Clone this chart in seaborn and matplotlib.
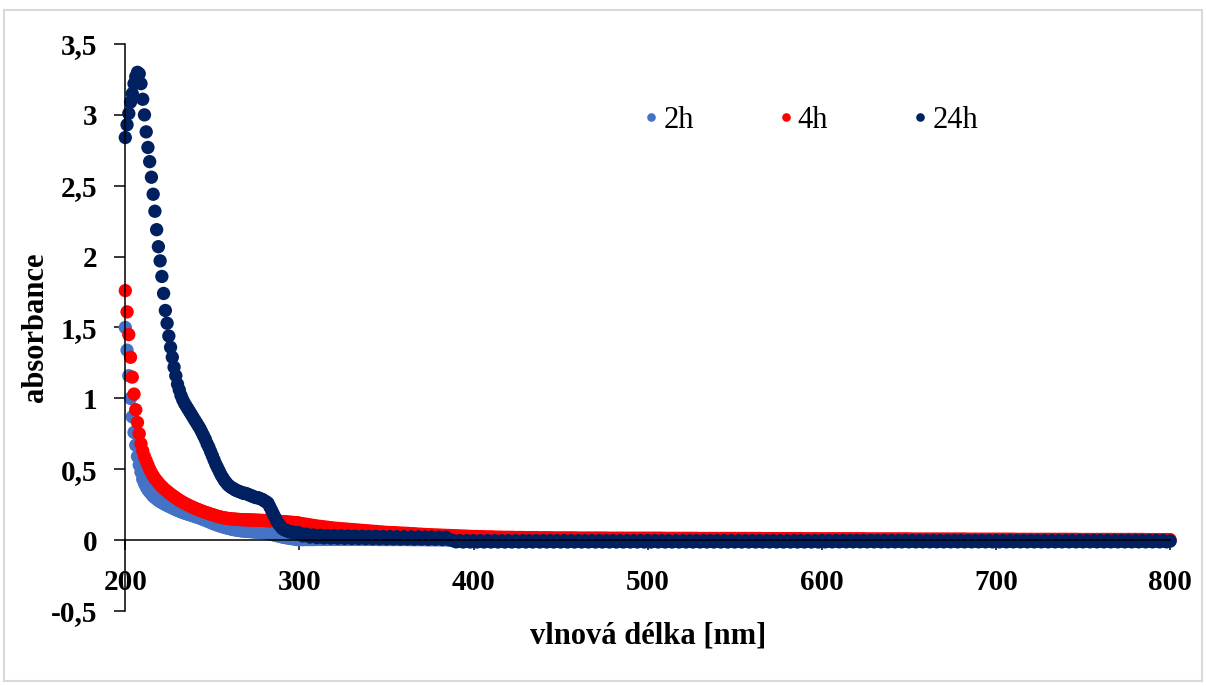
import matplotlib
matplotlib.use("Agg")
import matplotlib.pyplot as plt
from matplotlib.lines import Line2D
from matplotlib.patches import Rectangle
from matplotlib.ticker import FuncFormatter, MultipleLocator
import pandas as pd
import seaborn as sns

# Wavelength grid: 1 nm steps in the UV part, 2 nm steps from 300 nm on
wavelength = list(range(200, 300)) + list(range(300, 801, 2))

abs_2h = [
    # 200-299 nm
    1.50, 1.34, 1.16, 1.00, 0.87, 0.76, 0.67, 0.59, 0.53, 0.48,
    0.43, 0.40, 0.375, 0.355, 0.34, 0.325, 0.31, 0.30, 0.29, 0.28,
    0.272, 0.265, 0.258, 0.251, 0.245, 0.239, 0.233, 0.227, 0.221, 0.216,
    0.21, 0.205, 0.20, 0.195, 0.191, 0.187, 0.183, 0.179, 0.175, 0.171,
    0.167, 0.163, 0.159, 0.155, 0.15, 0.145, 0.14, 0.135, 0.13, 0.125,
    0.12, 0.115, 0.11, 0.106, 0.102, 0.098, 0.094, 0.09, 0.087, 0.084,
    0.081, 0.078, 0.075, 0.073, 0.071, 0.069, 0.067, 0.065, 0.064, 0.063,
    0.062, 0.061, 0.06, 0.059, 0.058, 0.057, 0.056, 0.055, 0.054, 0.053,
    0.052, 0.05, 0.047, 0.044, 0.041, 0.038, 0.035, 0.032, 0.029, 0.026,
    0.023, 0.02, 0.018, 0.016, 0.014, 0.012, 0.01, 0.008, 0.006, 0.004,
    # 300-800 nm
    0.003, 0.003, 0.004, 0.004, 0.004, 0.005, 0.005, 0.005, 0.005, 0.005,
    0.005, 0.005, 0.005, 0.005, 0.005, 0.005, 0.005, 0.005, 0.005, 0.005,
    0.005, 0.005, 0.005, 0.004, 0.004, 0.004, 0.004, 0.004, 0.004, 0.004,
    0.004, 0.004, 0.003, 0.003, 0.003, 0.003, 0.003, 0.002, 0.002, 0.002,
    0.002, 0.001, 0.001, 0.000, -0.004, -0.008, -0.008, -0.008, -0.008, -0.008,
    -0.008, -0.008, -0.008, -0.008, -0.008, -0.008, -0.008, -0.008, -0.008, -0.008,
    -0.008, -0.008, -0.008, -0.008, -0.008, -0.008, -0.008, -0.008, -0.008, -0.008,
    -0.008, -0.008, -0.008, -0.008, -0.008, -0.008, -0.008, -0.008, -0.008, -0.008,
    -0.008, -0.008, -0.008, -0.008, -0.008, -0.008, -0.008, -0.008, -0.008, -0.008,
    -0.008, -0.008, -0.008, -0.008, -0.008, -0.008, -0.008, -0.008, -0.008, -0.008,
    -0.008, -0.008, -0.008, -0.008, -0.008, -0.008, -0.008, -0.008, -0.008, -0.008,
    -0.008, -0.008, -0.008, -0.008, -0.008, -0.008, -0.008, -0.008, -0.008, -0.008,
    -0.008, -0.008, -0.008, -0.008, -0.008, -0.008, -0.008, -0.008, -0.008, -0.008,
    -0.008, -0.008, -0.008, -0.008, -0.008, -0.008, -0.008, -0.008, -0.008, -0.008,
    -0.008, -0.008, -0.008, -0.008, -0.008, -0.008, -0.008, -0.008, -0.008, -0.008,
    -0.007, -0.007, -0.007, -0.007, -0.007, -0.007, -0.007, -0.007, -0.007, -0.007,
    -0.007, -0.007, -0.007, -0.007, -0.007, -0.007, -0.007, -0.007, -0.007, -0.007,
    -0.007, -0.007, -0.007, -0.007, -0.007, -0.007, -0.007, -0.007, -0.007, -0.007,
    -0.007, -0.007, -0.007, -0.007, -0.007, -0.007, -0.007, -0.007, -0.007, -0.007,
    -0.007, -0.007, -0.007, -0.007, -0.007, -0.007, -0.007, -0.007, -0.007, -0.007,
    -0.007, -0.007, -0.007, -0.007, -0.007, -0.007, -0.007, -0.007, -0.007, -0.007,
    -0.007, -0.007, -0.007, -0.007, -0.007, -0.007, -0.007, -0.007, -0.007, -0.007,
    -0.007, -0.007, -0.007, -0.007, -0.007, -0.007, -0.007, -0.007, -0.007, -0.007,
    -0.007, -0.007, -0.007, -0.007, -0.007, -0.007, -0.007, -0.007, -0.007, -0.007,
    -0.007, -0.007, -0.007, -0.007, -0.007, -0.007, -0.007, -0.007, -0.007, -0.007,
    -0.007,
]

abs_4h = [
    # 200-299 nm
    1.76, 1.61, 1.45, 1.29, 1.15, 1.03, 0.92, 0.83, 0.75, 0.68,
    0.63, 0.59, 0.56, 0.53, 0.50, 0.475, 0.455, 0.435, 0.42, 0.405,
    0.39, 0.378, 0.366, 0.355, 0.345, 0.335, 0.325, 0.316, 0.307, 0.298,
    0.29, 0.282, 0.274, 0.267, 0.26, 0.254, 0.248, 0.242, 0.236, 0.23,
    0.225, 0.22, 0.215, 0.21, 0.205, 0.20, 0.196, 0.192, 0.188, 0.184,
    0.18, 0.176, 0.172, 0.168, 0.165, 0.162, 0.159, 0.157, 0.155, 0.153,
    0.151, 0.15, 0.149, 0.148, 0.147, 0.146, 0.145, 0.145, 0.144, 0.144,
    0.143, 0.143, 0.142, 0.142, 0.141, 0.141, 0.14, 0.14, 0.139, 0.139,
    0.138, 0.138, 0.137, 0.137, 0.136, 0.135, 0.135, 0.134, 0.133, 0.132,
    0.131, 0.13, 0.129, 0.128, 0.127, 0.126, 0.125, 0.124, 0.123, 0.122,
    # 300-800 nm
    0.120, 0.116, 0.112, 0.108, 0.104, 0.100, 0.097, 0.094, 0.091, 0.088,
    0.085, 0.083, 0.081, 0.079, 0.077, 0.075, 0.073, 0.071, 0.069, 0.067,
    0.065, 0.063, 0.061, 0.059, 0.057, 0.055, 0.054, 0.053, 0.052, 0.050,
    0.049, 0.048, 0.046, 0.045, 0.043, 0.042, 0.040, 0.039, 0.038, 0.037,
    0.036, 0.035, 0.034, 0.033, 0.032, 0.031, 0.030, 0.029, 0.028, 0.027,
    0.026, 0.026, 0.025, 0.024, 0.023, 0.023, 0.022, 0.021, 0.021, 0.020,
    0.020, 0.020, 0.019, 0.019, 0.019, 0.018, 0.018, 0.018, 0.018, 0.017,
    0.017, 0.017, 0.017, 0.016, 0.016, 0.016, 0.016, 0.016, 0.016, 0.016,
    0.015, 0.015, 0.015, 0.015, 0.015, 0.015, 0.015, 0.015, 0.015, 0.014,
    0.014, 0.014, 0.014, 0.014, 0.014, 0.014, 0.014, 0.014, 0.014, 0.014,
    0.014, 0.014, 0.014, 0.014, 0.014, 0.013, 0.013, 0.013, 0.013, 0.013,
    0.013, 0.013, 0.013, 0.013, 0.013, 0.012, 0.012, 0.012, 0.012, 0.012,
    0.012, 0.012, 0.012, 0.012, 0.012, 0.012, 0.012, 0.012, 0.012, 0.012,
    0.012, 0.012, 0.012, 0.011, 0.011, 0.011, 0.011, 0.011, 0.011, 0.011,
    0.011, 0.011, 0.011, 0.011, 0.011, 0.010, 0.010, 0.010, 0.010, 0.010,
    0.010, 0.010, 0.010, 0.010, 0.010, 0.010, 0.010, 0.010, 0.010, 0.010,
    0.010, 0.010, 0.010, 0.009, 0.009, 0.009, 0.009, 0.009, 0.009, 0.009,
    0.009, 0.009, 0.009, 0.009, 0.009, 0.009, 0.008, 0.008, 0.008, 0.008,
    0.008, 0.008, 0.008, 0.008, 0.008, 0.008, 0.008, 0.008, 0.008, 0.008,
    0.008, 0.008, 0.007, 0.007, 0.007, 0.007, 0.007, 0.007, 0.007, 0.007,
    0.007, 0.007, 0.007, 0.007, 0.007, 0.007, 0.006, 0.006, 0.006, 0.006,
    0.006, 0.006, 0.006, 0.006, 0.006, 0.006, 0.006, 0.006, 0.006, 0.006,
    0.006, 0.006, 0.006, 0.006, 0.005, 0.005, 0.005, 0.005, 0.005, 0.005,
    0.005, 0.005, 0.005, 0.005, 0.005, 0.005, 0.005, 0.005, 0.005, 0.005,
    0.005, 0.005, 0.005, 0.004, 0.004, 0.004, 0.004, 0.004, 0.004, 0.004,
    0.004,
]

abs_24h = [
    # 200-299 nm
    2.84, 2.93, 3.01, 3.09, 3.15, 3.22, 3.27, 3.30, 3.29, 3.22,
    3.11, 3.00, 2.88, 2.77, 2.67, 2.56, 2.44, 2.32, 2.19, 2.07,
    1.97, 1.86, 1.74, 1.62, 1.53, 1.44, 1.36, 1.29, 1.22, 1.16,
    1.10, 1.06, 1.02, 0.99, 0.965, 0.945, 0.925, 0.905, 0.885, 0.865,
    0.845, 0.825, 0.805, 0.785, 0.76, 0.735, 0.71, 0.68, 0.655, 0.625,
    0.595, 0.565, 0.535, 0.51, 0.485, 0.46, 0.44, 0.42, 0.405, 0.39,
    0.38, 0.37, 0.365, 0.355, 0.35, 0.345, 0.34, 0.335, 0.33, 0.33,
    0.325, 0.32, 0.315, 0.31, 0.305, 0.30, 0.30, 0.295, 0.29, 0.285,
    0.275, 0.27, 0.26, 0.235, 0.21, 0.185, 0.16, 0.135, 0.115, 0.10,
    0.085, 0.075, 0.07, 0.065, 0.06, 0.058, 0.056, 0.054, 0.052, 0.05,
    # 300-800 nm
    0.050, 0.030, 0.042, 0.022, 0.036, 0.018, 0.034, 0.016, 0.032, 0.015,
    0.031, 0.014, 0.030, 0.013, 0.029, 0.012, 0.028, 0.012, 0.027, 0.011,
    0.026, 0.010, 0.026, 0.010, 0.025, 0.009, 0.025, 0.009, 0.024, 0.008,
    0.024, 0.008, 0.023, 0.007, 0.023, 0.007, 0.022, 0.006, 0.022, 0.006,
    0.021, 0.005, 0.020, 0.004, -0.002, -0.012, -0.004, -0.013, -0.004, -0.013,
    -0.004, -0.013, -0.004, -0.013, -0.004, -0.013, -0.004, -0.013, -0.004, -0.013,
    -0.004, -0.013, -0.004, -0.013, -0.004, -0.013, -0.004, -0.013, -0.004, -0.013,
    -0.004, -0.013, -0.004, -0.013, -0.004, -0.013, -0.004, -0.013, -0.004, -0.013,
    -0.004, -0.013, -0.004, -0.013, -0.004, -0.013, -0.004, -0.013, -0.004, -0.013,
    -0.004, -0.013, -0.004, -0.013, -0.004, -0.013, -0.004, -0.013, -0.004, -0.013,
    -0.004, -0.013, -0.004, -0.013, -0.004, -0.013, -0.004, -0.013, -0.004, -0.013,
    -0.004, -0.013, -0.004, -0.013, -0.004, -0.013, -0.004, -0.013, -0.004, -0.013,
    -0.004, -0.013, -0.004, -0.013, -0.004, -0.013, -0.004, -0.013, -0.004, -0.013,
    -0.004, -0.013, -0.004, -0.013, -0.004, -0.013, -0.004, -0.013, -0.004, -0.013,
    -0.004, -0.013, -0.004, -0.013, -0.004, -0.013, -0.004, -0.013, -0.004, -0.013,
    -0.003, -0.012, -0.003, -0.012, -0.003, -0.012, -0.003, -0.012, -0.003, -0.012,
    -0.003, -0.012, -0.003, -0.012, -0.003, -0.012, -0.003, -0.012, -0.003, -0.012,
    -0.003, -0.012, -0.003, -0.012, -0.003, -0.012, -0.003, -0.012, -0.003, -0.012,
    -0.003, -0.012, -0.003, -0.012, -0.003, -0.012, -0.003, -0.012, -0.003, -0.012,
    -0.003, -0.012, -0.003, -0.012, -0.003, -0.012, -0.003, -0.012, -0.003, -0.012,
    -0.003, -0.012, -0.003, -0.012, -0.003, -0.012, -0.003, -0.012, -0.003, -0.012,
    -0.003, -0.012, -0.003, -0.012, -0.003, -0.012, -0.003, -0.012, -0.003, -0.012,
    -0.003, -0.012, -0.003, -0.012, -0.003, -0.012, -0.003, -0.012, -0.003, -0.012,
    -0.003, -0.012, -0.003, -0.012, -0.003, -0.012, -0.003, -0.012, -0.003, -0.012,
    -0.003, -0.012, -0.003, -0.012, -0.003, -0.012, -0.003, -0.012, -0.003, -0.012,
    -0.006,
]

series_labels = ["2h", "4h", "24h"]
series_colors = {"2h": "#4472C4", "4h": "#FF0000", "24h": "#002060"}

frames = []
for label, values in zip(series_labels, [abs_2h, abs_4h, abs_24h]):
    frames.append(pd.DataFrame({"wl": wavelength, "abs": values, "series": label}))
df = pd.concat(frames, ignore_index=True)

sns.set_theme(style="white", rc={
    "axes.edgecolor": "black",
    "xtick.color": "black",
    "ytick.color": "black",
    "text.color": "black",
    "axes.labelcolor": "black",
})
plt.rcParams["font.family"] = ["Liberation Serif", "DejaVu Serif"]
plt.rcParams["font.weight"] = "bold"

fig = plt.figure(figsize=(12.06, 6.86), dpi=100)
ax = fig.add_axes([0.1039, 0.1093, 0.8663, 0.8266])

sns.scatterplot(
    data=df, x="wl", y="abs", hue="series", hue_order=series_labels,
    palette=series_colors, s=92, linewidth=0, legend=False, ax=ax,
    clip_on=False,
)

ax.set_xlim(200, 800)
ax.set_ylim(-0.5, 3.5)
ax.xaxis.set_major_locator(MultipleLocator(100))
ax.yaxis.set_major_locator(MultipleLocator(0.5))
ax.yaxis.set_major_formatter(FuncFormatter(lambda v, pos: ("%g" % v).replace(".", ",")))

for side in ("top", "right"):
    ax.spines[side].set_visible(False)
ax.spines["bottom"].set_position(("data", 0))
for side in ("left", "bottom"):
    ax.spines[side].set_linewidth(1.1)
    ax.spines[side].set_color("black")

ax.tick_params(axis="y", left=True, direction="out", length=8, width=1.1,
               pad=12, labelsize=21)
ax.tick_params(axis="x", bottom=True, direction="out", length=7, width=1.1,
               pad=14, labelsize=21)

ax.set_xlabel("vlnová délka [nm]", fontsize=22, fontweight="bold")
ax.xaxis.label.set_va("center")
ax.xaxis.set_label_coords(0.5, -0.044)
ax.set_ylabel("absorbance", fontsize=22, fontweight="bold")
ax.yaxis.label.set_va("center")
ax.yaxis.set_label_coords(-0.0864, 0.5)

handles = [
    Line2D([], [], marker="o", linestyle="", markersize=6.2,
           markerfacecolor=series_colors[lab], markeredgewidth=0)
    for lab in series_labels
]
ax.legend(
    handles, series_labels, loc="center left",
    bbox_to_anchor=(642 / 1206, 1 - 120 / 686), bbox_transform=fig.transFigure,
    ncol=3, frameon=False, handlelength=0.6, handletextpad=0.1,
    columnspacing=2.7, borderpad=0, borderaxespad=0,
    prop={"family": "Liberation Serif", "size": 22, "weight": "normal"},
)

# light frame around the whole chart area
fig.patches.append(Rectangle(
    (4 / 1206, 1 - 681 / 686), (1202 - 4) / 1206, (681 - 10) / 686,
    transform=fig.transFigure, fill=False, edgecolor="#d9d9d9", linewidth=1.5,
))

fig.savefig("out.png", dpi=100)
